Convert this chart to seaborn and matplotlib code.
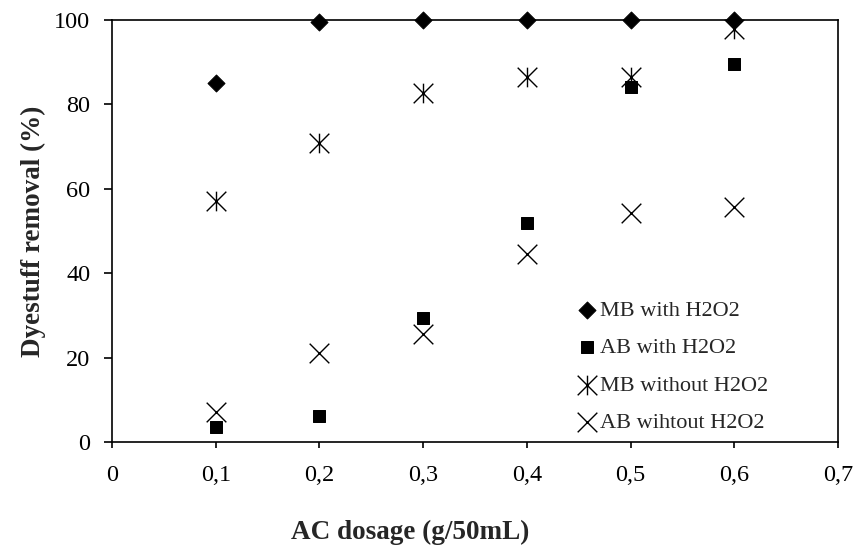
import pandas as pd
import numpy as np
import matplotlib
matplotlib.use("Agg")
import matplotlib.pyplot as plt
from matplotlib.path import Path
from matplotlib.ticker import FuncFormatter, MultipleLocator
import seaborn as sns

# AC dosage (g/50mL) and dye removal (%)
dosage = [0.1, 0.2, 0.3, 0.4, 0.5, 0.6]
mb_with = [85.1, 99.5, 100.0, 100.0, 100.0, 100.0]
ab_with = [3.6, 6.2, 29.4, 52.0, 84.2, 89.6]
mb_without = [57.1, 70.8, 82.7, 86.6, 86.6, 97.8]
ab_without = [7.1, 21.2, 25.5, 44.5, 54.2, 55.6]
labels = ["MB with H2O2", "AB with H2O2", "MB without H2O2", "AB wihtout H2O2"]

rows = []
for lab, vals in zip(labels, [mb_with, ab_with, mb_without, ab_without]):
    for d, v in zip(dosage, vals):
        rows.append({"series": lab, "dosage": d, "removal": v})
df = pd.DataFrame(rows)

# asterisk like the excel one: vertical bar plus an X
star = Path([(0, -1), (0, 1), (-1, -1), (1, 1), (-1, 1), (1, -1)],
            [Path.MOVETO, Path.LINETO, Path.MOVETO, Path.LINETO, Path.MOVETO, Path.LINETO])

styles = {
    labels[0]: dict(marker="D", s=75),
    labels[1]: dict(marker="s", s=78),
    labels[2]: dict(marker=star, s=200, linewidth=1.0),
    labels[3]: dict(marker="x", s=200, linewidth=1.0),
}

sns.set_style("ticks")
plt.rcParams["font.family"] = ["Liberation Serif", "DejaVu Serif"]

fig = plt.figure(figsize=(8.57, 5.48), dpi=100)
ax = fig.add_axes([0.1307, 0.1934, 0.8473, 0.7701])

for lab in labels:
    sub = df[df["series"] == lab]
    sns.scatterplot(data=sub, x="dosage", y="removal", ax=ax, color="black",
                    edgecolor="black", label=lab, clip_on=False, zorder=3,
                    **styles[lab])

ax.set_xlim(0, 0.7)
ax.set_ylim(0, 100)
ax.xaxis.set_major_locator(MultipleLocator(0.1))
ax.yaxis.set_major_locator(MultipleLocator(20))
ax.xaxis.set_major_formatter(FuncFormatter(lambda v, p: "0" if abs(v) < 1e-9 else f"{v:.1f}".replace(".", ",")))
ax.tick_params(direction="out", width=1.2, labelsize=17.5, colors="black")
ax.tick_params(axis="x", length=4.5, pad=12)
ax.tick_params(axis="y", length=5.5, pad=10)
for sp in ax.spines.values():
    sp.set_linewidth(1.2)
    sp.set_color("black")

ax.set_xlabel("AC dosage (g/50mL)", fontweight="bold", fontsize=19.5)
ax.xaxis.set_label_coords(0.41, -0.185)
ax.set_ylabel("Dyestuff removal (%)", fontweight="bold", fontsize=19.5, labelpad=6)

ax.legend(loc="lower left", bbox_to_anchor=(0.636, 0.022), frameon=False,
          handletextpad=0.0, handlelength=1.2, labelspacing=0.75, fontsize=16,
          borderaxespad=0.0, borderpad=0.0)

fig.savefig("out.png", dpi=100)
